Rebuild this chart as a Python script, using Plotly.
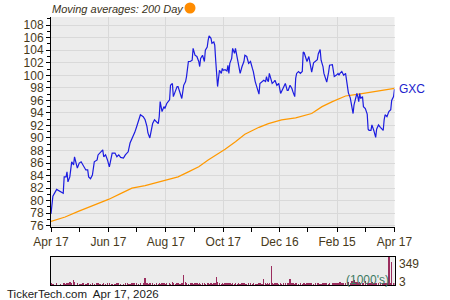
import pandas as pd
import plotly.graph_objects as go

BASE = pd.Timestamp("2025-04-17")

# ---- price (GXC) : day offsets from Apr 17 2025 and closing values ----
price_days = [
    0, 2, 6, 10, 13, 14, 16, 17, 18, 20,
    22, 24, 25, 28, 30, 32, 34, 37, 39, 40,
    42, 44, 46, 49, 50, 52, 55, 56, 58, 60,
    62, 65, 68, 70, 72, 74, 77, 79, 81, 82,
    84, 86, 88, 89, 91, 93, 95, 98, 100, 102,
    103, 105, 106, 108, 110, 112, 114, 115, 116, 118,
    120, 121, 123, 126, 127, 129, 130, 132, 134, 135,
    137, 139, 141, 143, 144, 146, 148, 150, 151, 153,
    155, 157, 158, 159, 161, 163, 164, 166, 167, 168,
    170, 171, 173, 174, 175, 176, 177, 179, 181, 182,
    183, 185, 187, 188, 189, 190, 192, 193, 195, 196,
    198, 199, 201, 203, 205, 206, 208, 210, 212, 214,
    215, 217, 219, 221, 222, 224, 226, 228, 229, 230,
    231, 232, 234, 235, 237, 238, 240, 242, 244, 245,
    247, 249, 251, 252, 254, 256, 257, 259, 260, 261,
    263, 265, 267, 268, 269, 270, 272, 274, 276, 277,
    279, 281, 283, 284, 286, 287, 289, 290, 292, 293,
    295, 296, 299, 300, 301, 303, 305, 306, 307, 309,
    311, 313, 315, 316, 318, 319, 320, 321, 322, 323,
    325, 326, 327, 328, 329, 331, 332, 334, 336, 337,
    338, 340, 341, 343, 344, 345, 346, 348, 350, 352,
    353, 354, 355, 357, 359, 361, 362, 364, 365,
]
price_vals = [
    77.9, 80.7, 81.8, 81.5, 81.2, 83.8, 83.8, 84.6, 83.0, 83.8,
    86.2, 85.7, 87.0, 85.2, 86.0, 86.2, 85.7, 84.9, 84.9, 83.8,
    83.5, 84.1, 86.2, 86.5, 87.3, 87.6, 88.1, 87.0, 87.3, 86.5,
    85.4, 87.6, 87.6, 87.0, 87.3, 86.9, 86.8, 87.3, 87.7, 87.8,
    89.2, 89.9, 90.4, 90.9, 91.8, 92.9, 93.7, 93.4, 92.9, 91.8,
    90.8, 90.0, 91.0, 92.3, 92.9, 92.6, 92.3, 93.4, 95.8, 94.2,
    95.0, 94.7, 95.5, 96.1, 98.4, 98.7, 96.6, 97.4, 98.2, 98.2,
    97.4, 96.3, 98.4, 99.0, 99.8, 102.2, 102.2, 102.4, 104.3, 103.2,
    103.0, 102.2, 101.4, 102.7, 103.2, 102.2, 104.0, 104.5, 105.6, 106.3,
    105.9, 105.1, 105.3, 104.8, 102.4, 100.3, 98.2, 100.8, 100.3, 101.1,
    100.8, 100.9, 100.7, 101.6, 100.3, 101.9, 102.7, 104.3, 103.5, 104.3,
    102.7, 101.9, 100.3, 101.4, 102.2, 103.2, 103.0, 101.9, 102.2, 101.1,
    100.6, 99.0, 97.9, 97.0, 98.7, 99.0, 99.2, 99.0, 99.8, 99.2,
    99.0, 100.3, 99.2, 98.7, 99.0, 99.2, 98.4, 98.7, 97.1, 97.4,
    98.2, 98.7, 97.6, 97.6, 98.4, 97.9, 97.4, 96.6, 99.5, 100.3,
    100.6, 100.3, 100.6, 103.7, 103.6, 103.2, 102.2, 103.0, 101.0, 100.5,
    102.0, 102.3, 102.5, 103.4, 104.1, 102.4, 101.4, 100.3, 99.3, 98.9,
    100.5, 101.6, 101.7, 100.8, 99.8, 100.0, 100.3, 100.0, 100.3, 100.6,
    100.0, 100.3, 98.2, 97.2, 96.4, 95.5, 94.7, 93.9, 95.3, 96.0,
    97.1, 96.6, 95.8, 97.1, 96.3, 96.6, 95.0, 94.7, 93.8, 91.4,
    91.2, 91.2, 92.1, 91.2, 90.4, 90.1, 91.4, 92.1, 91.7, 91.4,
    91.2, 92.9, 93.7, 93.4, 94.2, 94.5, 96.0, 96.6, 97.8,
]

# ---- volume (1000's), same days as price ----
volume_vals = [
    20, 18, 25, 15, 22, 30, 18, 24, 20, 40,
    30, 60, 35, 20, 18, 15, 22, 16, 20, 25,
    18, 22, 15, 20, 28, 16, 18, 24, 15, 20,
    22, 18, 16, 20, 25, 18, 15, 22, 20, 16,
    18, 24, 20, 15, 22, 18, 20, 25, 85, 20,
    16, 22, 18, 20, 15, 30, 18, 22, 16, 28,
    20, 18, 25, 22, 16, 35, 20, 18, 22, 24,
    18, 30, 130, 40, 22, 18, 25, 20, 16, 22,
    20, 18, 24, 16, 22, 20, 18, 28, 20, 16,
    22, 18, 20, 30, 25, 95, 35, 20, 18, 24,
    16, 22, 20, 18, 25, 20, 16, 22, 18, 20,
    15, 22, 18, 20, 25, 18, 16, 24, 20, 18,
    22, 18, 16, 20, 24, 18, 75, 20, 16, 22,
    18, 20, 237, 22, 18, 25, 20, 16, 22, 18,
    20, 24, 18, 22, 70, 20, 28, 18, 22, 20,
    16, 22, 18, 25, 20, 16, 22, 30, 20, 24,
    18, 22, 20, 25, 18, 16, 24, 20, 28, 22,
    18, 24, 20, 22, 30, 25, 20, 18, 35, 22,
    28, 20, 35, 40, 30, 25, 55, 45, 60, 35,
    40, 30, 25, 35, 28, 22, 30, 45, 25, 30,
    24, 28, 35, 22, 30, 25, 28, 22, 30, 26,
    24, 30, 22, 28, 349, 25, 287, 30, 22,
]

# ---- 200 day moving average ----
ma_days = [0, 15, 29, 47, 61, 75, 86, 100, 118, 135, 146, 157, 167, 185,
           196, 206, 221, 231, 245, 260, 277, 288, 299, 313, 327, 345, 365]
ma_vals = [76.7, 77.4, 78.3, 79.3, 80.2, 81.2, 82.0, 82.4, 83.1, 83.8, 84.6,
           85.4, 86.5, 88.2, 89.4, 90.6, 91.7, 92.3, 92.9, 93.2, 93.9, 95.0,
           95.8, 96.7, 97.0, 97.4, 97.9]

# ---- axis ticks ----
x_tick_dates = ["2025-04-17", "2025-06-17", "2025-08-17", "2025-10-17",
                "2025-12-16", "2026-02-15", "2026-04-17"]
x_tick_text = ["Apr 17", "Jun 17", "Aug 17", "Oct 17", "Dec 16", "Feb 15", "Apr 17"]
x_minor_dates = ["2025-05-17", "2025-07-17", "2025-09-17", "2025-11-16",
                 "2026-01-15", "2026-03-17"]
y_ticks = list(range(76, 110, 2))
vol_labels = ["349", "3"]
ticker = "GXC"
title_text = "Moving averages: 200 Day"
footer_text = "TickerTech.com  Apr 17, 2026"

assert len(price_days) == len(price_vals) == len(volume_vals)

px_dates = BASE + pd.to_timedelta(price_days, unit="D")
ma_dates = BASE + pd.to_timedelta(ma_days, unit="D")

W, H = 450, 300
def px(x):
    return x / W
def py(y):
    return 1 - y / H

FONT = "Liberation Sans, Arial, sans-serif"
TICKC = "#47391a"
GRID = "#d9d9d9"
BG = "#ececec"

fig = go.Figure()
fig.add_trace(go.Scatter(x=ma_dates, y=ma_vals, mode="lines",
                         line=dict(color="#ff9900", width=1.2),
                         xaxis="x", yaxis="y", hoverinfo="skip"))
fig.add_trace(go.Scatter(x=px_dates, y=price_vals, mode="lines",
                         line=dict(color="#1c1ce0", width=1.2),
                         xaxis="x", yaxis="y", hoverinfo="skip"))
fig.add_trace(go.Bar(x=px_dates, y=volume_vals, marker=dict(color="#9b2d5e", line_width=0),
                     width=86400000 * 1.5, xaxis="x2", yaxis="y2", hoverinfo="skip"))

xr = [BASE, BASE + pd.Timedelta(days=365)]
xdom = [px(51), px(394.5)]

fig.update_layout(
    width=W, height=H, autosize=False,
    margin=dict(l=0, r=0, t=0, b=0, pad=0, autoexpand=False),
    paper_bgcolor="white",
    plot_bgcolor=BG,
    showlegend=False,
    font=dict(family=FONT, size=12, color=TICKC),
    bargap=0,
    xaxis=dict(domain=xdom, range=xr, anchor="y", type="date", automargin=False,
               tickmode="array", tickvals=x_tick_dates, ticktext=x_tick_text,
               ticks="outside", ticklen=4, tickcolor="black",
               showgrid=True, gridcolor=GRID, gridwidth=1,
               showline=True, linecolor="black", linewidth=1,
               tickfont=dict(size=12, color=TICKC),
               minor=dict(tickmode="array", tickvals=x_minor_dates, ticks="outside",
                          ticklen=4, tickcolor="black", showgrid=False),
               zeroline=False, fixedrange=True),
    yaxis=dict(domain=[py(227), py(17)], range=[75.8, 109.3], anchor="x", automargin=False,
               tickmode="array", tickvals=y_ticks,
               ticks="outside", ticklen=4, tickcolor="black",
               showgrid=True, gridcolor=GRID, gridwidth=1,
               showline=True, linecolor="black", linewidth=1,
               tickfont=dict(size=12, color=TICKC),
               minor=dict(dtick=1, tick0=0, ticks="outside", ticklen=3,
                          tickcolor="black", showgrid=False),
               zeroline=False, fixedrange=True),
    xaxis2=dict(domain=xdom, range=xr, anchor="y2", type="date", automargin=False,
                showticklabels=False, ticks="", showgrid=False,
                showline=True, linecolor="black", linewidth=1, mirror=True,
                zeroline=False, fixedrange=True),
    yaxis2=dict(domain=[py(285), py(257)], range=[0, 349], anchor="x2", automargin=False,
                showticklabels=False, ticks="", showgrid=False,
                showline=True, linecolor="black", linewidth=1, mirror=True,
                zeroline=False, fixedrange=True),
)

fig.add_annotation(text="<i>" + title_text + "</i>", xref="paper", yref="paper",
                   x=px(50), y=py(9), xanchor="left", yanchor="middle",
                   showarrow=False, font=dict(family=FONT, size=11, color="#3b3321"))
fig.add_shape(type="circle", xref="paper", yref="paper",
              x0=px(184.5), x1=px(195.5), y0=py(13.5), y1=py(2.5),
              fillcolor="#ff8c00", line=dict(width=0))
fig.add_annotation(text=ticker, xref="paper", yref="y", x=px(397), y=price_vals[-1],
                   xanchor="left", yanchor="middle", showarrow=False,
                   font=dict(family=FONT, size=12, color="#2222cc"))
fig.add_annotation(text=vol_labels[0], xref="paper", yref="paper", x=px(397), y=py(264),
                   xanchor="left", yanchor="middle", showarrow=False,
                   font=dict(family=FONT, size=12, color=TICKC))
fig.add_annotation(text=vol_labels[1], xref="paper", yref="paper", x=px(397), y=py(282),
                   xanchor="left", yanchor="middle", showarrow=False,
                   font=dict(family=FONT, size=12, color=TICKC))
fig.add_annotation(text="(1000's)", xref="paper", yref="paper", x=px(391), y=py(280),
                   xanchor="right", yanchor="middle", showarrow=False,
                   font=dict(family=FONT, size=12, color="#3d7a62"))
fig.add_annotation(text=footer_text, xref="paper", yref="paper", x=px(5), y=py(294),
                   xanchor="left", yanchor="middle", showarrow=False,
                   font=dict(family=FONT, size=11.5, color="#1a1a1a"))

fig.write_html("out.html", config={"displayModeBar": False, "staticPlot": True})
